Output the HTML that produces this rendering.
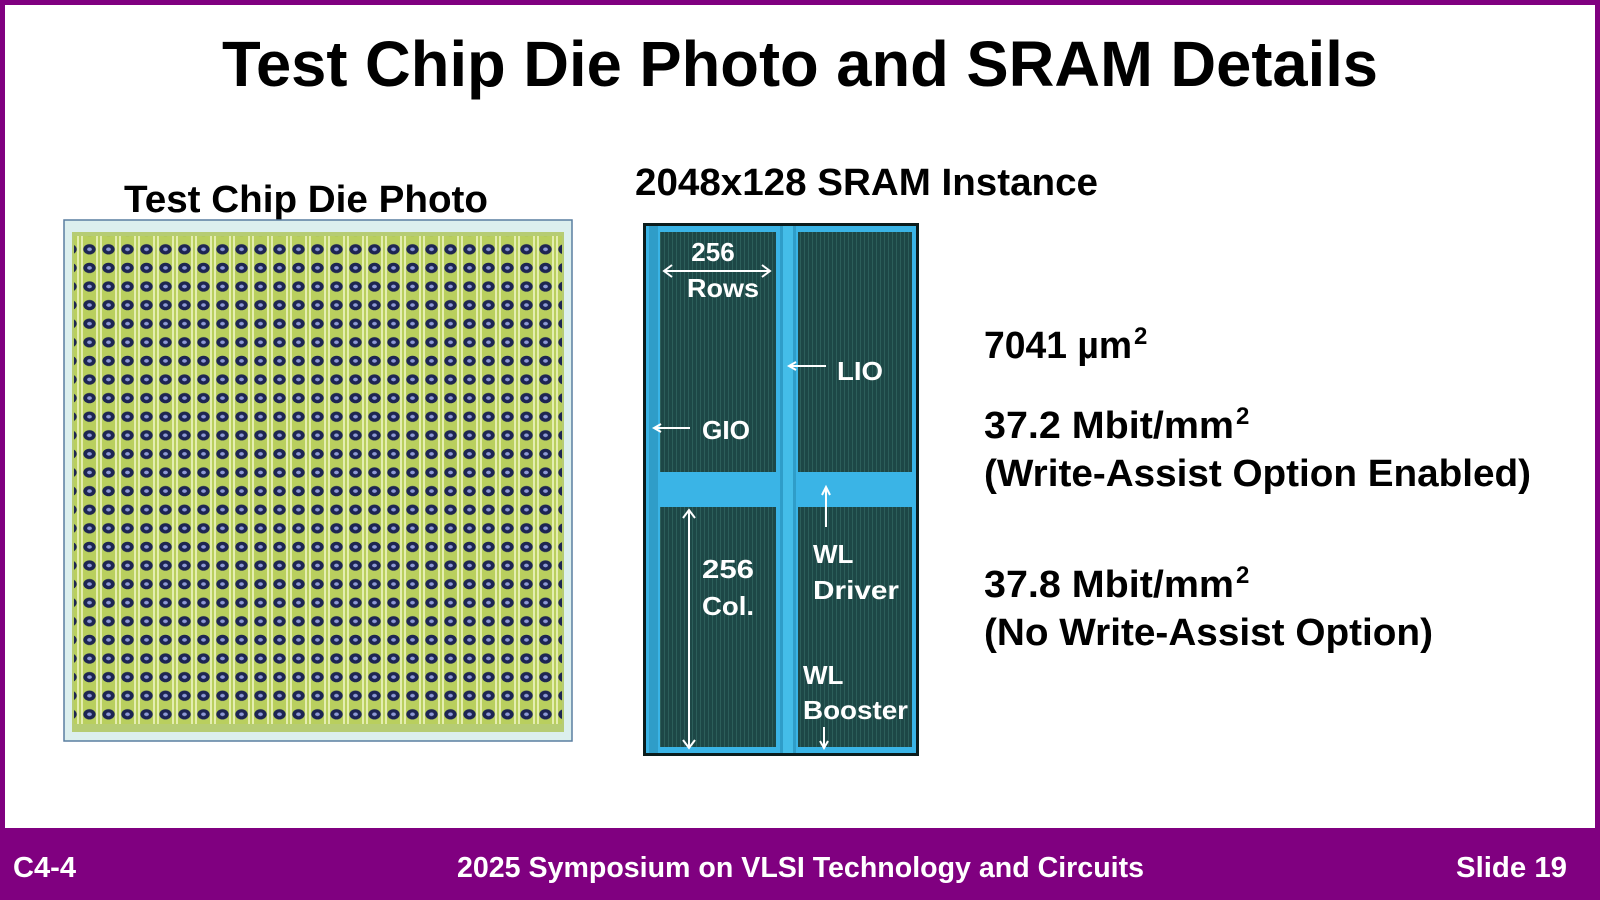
<!DOCTYPE html>
<html><head><meta charset="utf-8"><style>
html,body{margin:0;padding:0;background:#fff}
svg{display:block}
text{font-family:"Liberation Sans","DejaVu Sans",sans-serif;font-weight:bold}
</style></head><body>
<svg width="1600" height="900" viewBox="0 0 1600 900" xmlns="http://www.w3.org/2000/svg">
<defs>
<pattern id="die" x="80" y="240" width="19" height="18.6" patternUnits="userSpaceOnUse">
<rect width="19" height="18.6" fill="#b9cf5e"/>
<rect x="1" width="2" height="18.6" fill="#e4edb0"/>
<rect x="16" width="2" height="18.6" fill="#e4edb0"/>
<ellipse cx="9.5" cy="9.3" rx="6.2" ry="5.2" fill="#1d2552"/>
<ellipse cx="9.5" cy="9.3" rx="2.4" ry="1.8" fill="#8e9ad6"/>
</pattern>
<pattern id="cell" width="4" height="4" patternUnits="userSpaceOnUse">
<rect width="4" height="4" fill="#1d4746"/>
<rect x="0" width="1" height="4" fill="#2c5e5a"/>
</pattern>
</defs>
<rect x="0" y="0" width="1600" height="900" fill="#800080"/>
<rect x="5" y="5" width="1590" height="823" fill="#fff"/>

<text x="800" y="86" font-size="64" text-anchor="middle" textLength="1156" lengthAdjust="spacingAndGlyphs" fill="#000">Test Chip Die Photo and SRAM Details</text>

<text x="124" y="212" font-size="38" textLength="364" lengthAdjust="spacingAndGlyphs">Test Chip Die Photo</text>
<text x="635" y="195" font-size="38" textLength="463" lengthAdjust="spacingAndGlyphs">2048x128 SRAM Instance</text>

<!-- die photo -->
<rect x="64" y="220" width="508" height="521" fill="#dcefee" stroke="#5a7fa0" stroke-width="1.5"/>
<rect x="72" y="232" width="492" height="500" fill="#b6cc74"/>
<rect x="74" y="236" width="488" height="488" fill="url(#die)"/>

<!-- SRAM -->
<rect x="643" y="223" width="276" height="533" fill="#0b1c1c"/>
<rect x="646" y="226" width="270" height="527" fill="#3ab4e6"/>
<rect x="660" y="232" width="116" height="240" fill="url(#cell)"/>
<rect x="798" y="232" width="114" height="240" fill="url(#cell)"/>
<rect x="660" y="507" width="116" height="240" fill="url(#cell)"/>
<rect x="798" y="507" width="114" height="240" fill="url(#cell)"/>
<rect x="649" y="226" width="9" height="527" fill="#2f9dc8"/>
<rect x="780" y="226" width="16" height="527" fill="#2f9dc8"/>
<rect x="783" y="226" width="10" height="527" fill="#44bde8"/>
<g fill="#fff" font-size="26">
<text x="713" y="261" text-anchor="middle">256</text>
<text x="687" y="297" textLength="72" lengthAdjust="spacingAndGlyphs">Rows</text>
<text x="837" y="380" textLength="46" lengthAdjust="spacingAndGlyphs">LIO</text>
<text x="702" y="439" textLength="48" lengthAdjust="spacingAndGlyphs">GIO</text>
<text x="813" y="563">WL</text>
<text x="813" y="599" textLength="86" lengthAdjust="spacingAndGlyphs">Driver</text>
<text x="702" y="578" textLength="52" lengthAdjust="spacingAndGlyphs">256</text>
<text x="702" y="615" textLength="52" lengthAdjust="spacingAndGlyphs">Col.</text>
<text x="803" y="684">WL</text>
<text x="803" y="719" textLength="105" lengthAdjust="spacingAndGlyphs">Booster</text>
</g>
<g stroke="#fff" stroke-width="2" fill="none">
<line x1="665" y1="271" x2="769" y2="271"/>
<polyline points="672,265 664,271 672,277"/><polyline points="762,265 770,271 762,277"/>
<line x1="826" y1="366" x2="790" y2="366"/><polyline points="796,362 789,366 796,370"/>
<line x1="690" y1="428" x2="655" y2="428"/><polyline points="661,424 654,428 661,432"/>
<line x1="826" y1="527" x2="826" y2="489"/><polyline points="822,495 826,487 830,495"/>
<line x1="689" y1="511" x2="689" y2="747"/><polyline points="683,518 689,510 695,518"/><polyline points="683,740 689,748 695,740"/>
<line x1="824" y1="727" x2="824" y2="747"/><polyline points="820,741 824,748 828,741"/>
</g>

<g fill="#000" font-size="38">
<text x="984" y="358" textLength="148" lengthAdjust="spacingAndGlyphs">7041 µm</text>
<text x="1134" y="344" font-size="24">2</text>
<text x="984" y="438" textLength="250" lengthAdjust="spacingAndGlyphs">37.2 Mbit/mm</text>
<text x="1236" y="424" font-size="24">2</text>
<text x="984" y="486" textLength="547" lengthAdjust="spacingAndGlyphs">(Write-Assist Option Enabled)</text>
<text x="984" y="597" textLength="250" lengthAdjust="spacingAndGlyphs">37.8 Mbit/mm</text>
<text x="1236" y="583" font-size="24">2</text>
<text x="984" y="645" textLength="449" lengthAdjust="spacingAndGlyphs">(No Write-Assist Option)</text>
</g>

<g fill="#fff" font-size="29">
<text x="13" y="877" textLength="63" lengthAdjust="spacingAndGlyphs">C4-4</text>
<text x="457" y="877" textLength="687" lengthAdjust="spacingAndGlyphs">2025 Symposium on VLSI Technology and Circuits</text>
<text x="1456" y="877" textLength="111" lengthAdjust="spacingAndGlyphs">Slide 19</text>
</g>
</svg>
</body></html>
